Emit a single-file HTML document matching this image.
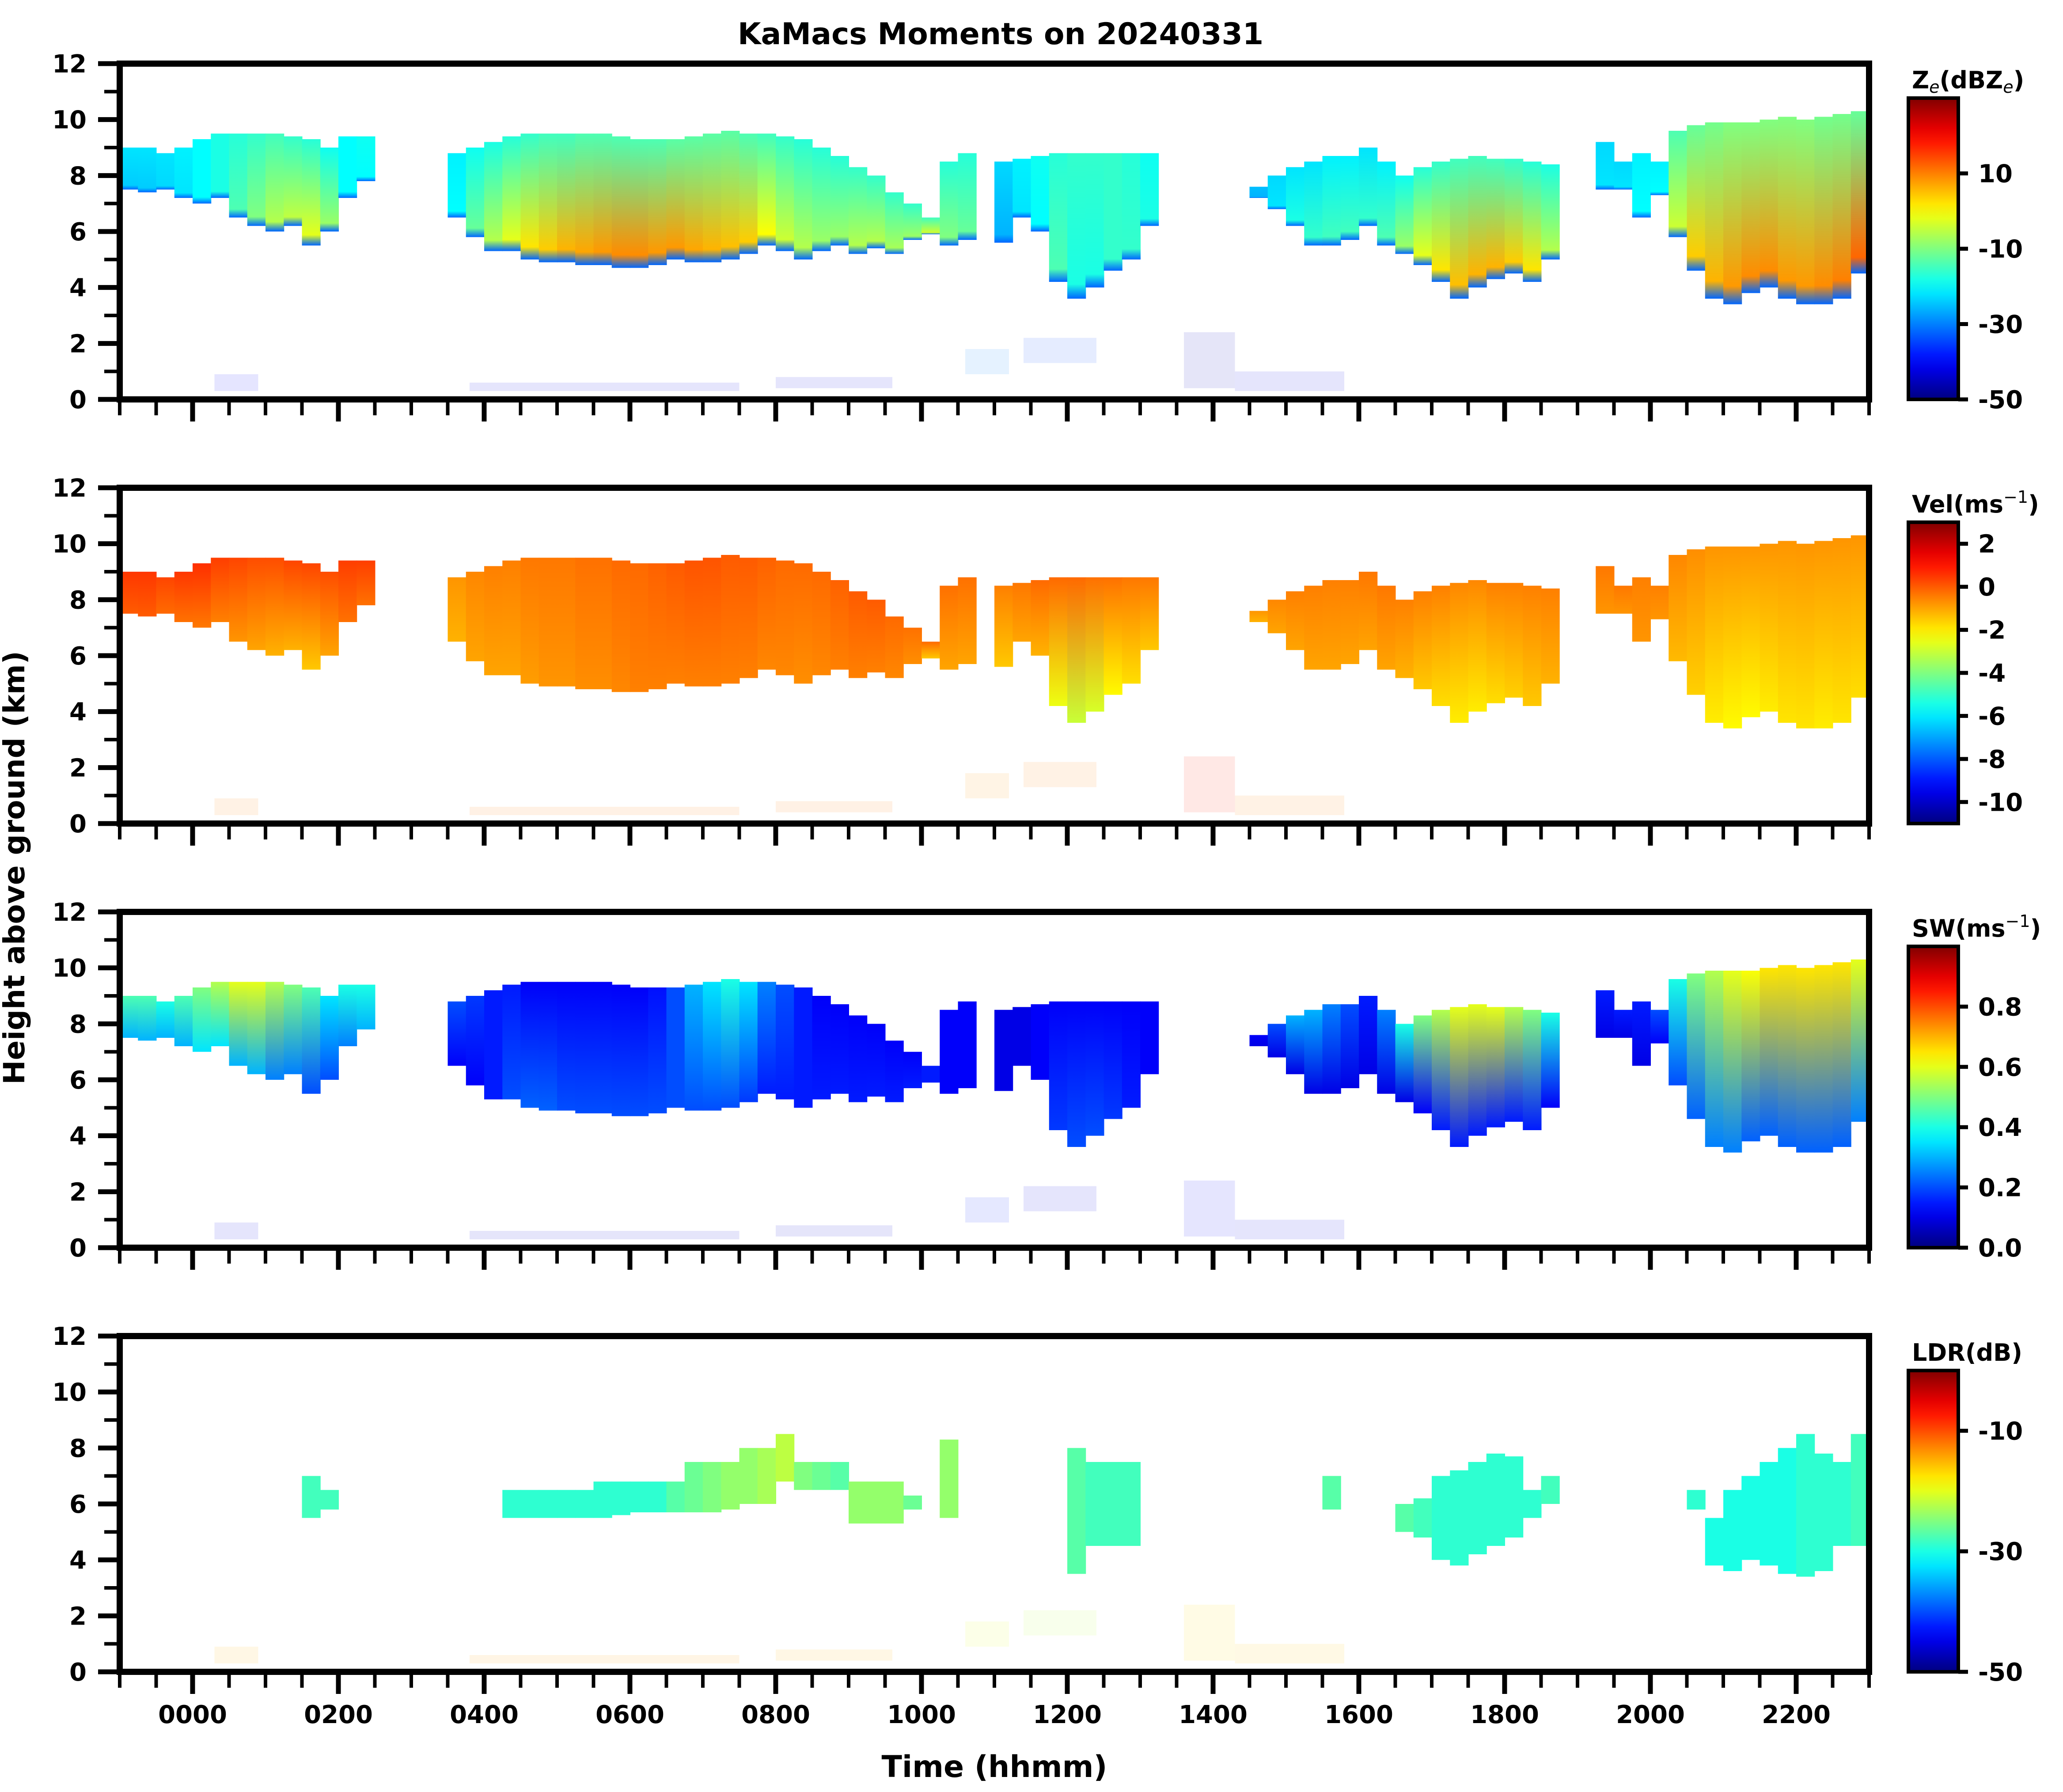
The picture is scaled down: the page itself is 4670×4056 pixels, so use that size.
<!DOCTYPE html>
<html><head><meta charset="utf-8">
<style>
html,body{margin:0;padding:0;background:#fff;}
svg{display:block;font-family:"DejaVu Sans","Liberation Sans",sans-serif;font-weight:bold;}
</style></head>
<body>
<svg id="fig" xmlns="http://www.w3.org/2000/svg" width="4670" height="4056" viewBox="0 0 4670 4056">
<rect width="4670" height="4056" fill="#fff"/>
<defs id="defs"></defs>
<text x="2265" y="100" font-size="68" text-anchor="middle">KaMacs Moments on 20240331</text>
<text x="0" y="0" font-size="66" text-anchor="middle" transform="translate(55,1964) rotate(-90)">Height above ground (km)</text>
<text x="2251" y="4022" font-size="68" text-anchor="middle">Time (hhmm)</text>
<g id="plots"></g>
</svg>
<script>
// ---- data (hours relative to 0000 UTC, 15-min columns) ----
const hours = [-1,-0.75,-0.5,-0.25,0,0.25,0.5,0.75,1,1.25,1.5,1.75,2,2.25,2.5,2.75,3,3.25,3.5,3.75,4,4.25,4.5,4.75,5,5.25,5.5,5.75,6,6.25,6.5,6.75,7,7.25,7.5,7.75,8,8.25,8.5,8.75,9,9.25,9.5,9.75,10,10.25,10.5,10.75,11,11.25,11.5,11.75,12,12.25,12.5,12.75,13,13.25,13.5,13.75,14,14.25,14.5,14.75,15,15.25,15.5,15.75,16,16.25,16.5,16.75,17,17.25,17.5,17.75,18,18.25,18.5,18.75,19,19.25,19.5,19.75,20,20.25,20.5,20.75,21,21.25,21.5,21.75,22,22.25,22.5,22.75];
const cloudTop = [9.0,9.0,8.8,9.0,9.3,9.5,9.5,9.5,9.5,9.4,9.3,9.0,9.4,9.4,0,0,0,0,8.8,9.0,9.2,9.4,9.5,9.5,9.5,9.5,9.5,9.4,9.3,9.3,9.3,9.4,9.5,9.6,9.5,9.5,9.4,9.3,9.0,8.7,8.3,8.0,7.4,7.0,6.5,8.5,8.8,0,8.5,8.6,8.7,8.8,8.8,8.8,8.8,8.8,8.8,0,0,0,0,0,7.6,8.0,8.3,8.5,8.7,8.7,9.0,8.5,8.0,8.3,8.5,8.6,8.7,8.6,8.6,8.5,8.4,0,0,9.2,8.5,8.8,8.5,9.6,9.8,9.9,9.9,9.9,10.0,10.1,10.0,10.1,10.2,10.3];
const cloudBase = [7.5,7.4,7.5,7.2,7.0,7.2,6.5,6.2,6.0,6.2,5.5,6.0,7.2,7.8,0,0,0,0,6.5,5.8,5.3,5.3,5.0,4.9,4.9,4.8,4.8,4.7,4.7,4.8,5.0,4.9,4.9,5.0,5.2,5.5,5.3,5.0,5.3,5.5,5.2,5.4,5.2,5.7,5.9,5.5,5.7,0,5.6,6.5,6.0,4.2,3.6,4.0,4.6,5.0,6.2,0,0,0,0,0,7.2,6.8,6.2,5.5,5.5,5.7,6.2,5.5,5.2,4.8,4.2,3.6,4.0,4.3,4.5,4.2,5.0,0,0,7.5,7.5,6.5,7.3,5.8,4.6,3.6,3.4,3.8,4.0,3.6,3.4,3.4,3.6,4.5];
const zeUpper = [-22,-22,-22,-21,-20,-18,-17,-16,-15,-16,-17,-19,-20,-19,0,0,0,0,-21,-19,-18,-17,-16,-15,-15,-14,-14,-14,-14,-14,-13,-13,-13,-13,-14,-15,-16,-17,-17,-17,-16,-16,-16,-16,-15,-17,-17,0,-23,-21,-19,-17,-16,-16,-16,-17,-19,0,0,0,0,0,-25,-23,-22,-22,-21,-21,-22,-21,-19,-17,-16,-15,-15,-15,-16,-17,-18,0,0,-23,-23,-21,-21,-14,-12,-11,-10,-10,-10,-10,-10,-11,-11,-12];
const zeLower = [-24,-24,-23,-22,-20,-18,-14,-10,-6,-5,-2,-8,-20,-20,0,0,0,0,-20,-12,-6,-2,2,4,6,7,8,9,9,8,8,7,6,5,4,0,-4,-6,-8,-8,-6,-6,-7,-8,-4,-10,-12,0,-26,-22,-20,-14,-18,-18,-16,-16,-18,0,0,0,0,0,-26,-22,-18,-16,-15,-15,-16,-14,-8,-2,2,5,6,6,4,2,-6,0,0,-22,-22,-20,-20,-4,4,6,8,9,9,8,8,9,10,12];
const velUpper = [0.5,0.5,0.3,0.5,0.6,0.4,0.3,0.2,0.2,0.3,0.3,0.2,0.4,0.4,0,0,0,0,-0.8,-0.6,-0.5,-0.5,-0.4,-0.4,-0.4,-0.3,-0.3,-0.2,-0.2,-0.1,0,0.1,0.1,0,0,-0.1,-0.2,-0.2,-0.2,-0.1,0,0,-0.2,-0.3,-0.2,-0.3,-0.3,0,-0.5,-0.4,-0.2,-0.2,-0.2,-0.3,-0.3,-0.4,-0.4,0,0,0,0,0,-0.8,-0.6,-0.5,-0.5,-0.5,-0.5,-0.4,-0.4,-0.5,-0.5,-0.5,-0.6,-0.6,-0.5,-0.5,-0.5,-0.5,0,0,-0.4,-0.4,-0.5,-0.5,-0.6,-0.7,-0.8,-0.8,-0.8,-0.8,-0.8,-0.8,-0.8,-0.8,-0.8];
const velLower = [0,0,-0.2,-0.3,-0.4,-0.5,-0.8,-1,-1.2,-1.2,-1.5,-1,-0.3,-0.3,0,0,0,0,-1.2,-1.0,-1.0,-1.0,-0.9,-0.8,-0.8,-0.7,-0.7,-0.6,-0.5,-0.5,-0.5,-0.5,-0.5,-0.5,-0.5,-0.6,-0.6,-0.7,-0.6,-0.5,-0.5,-0.5,-0.6,-0.7,-1.5,-1.0,-1.0,0,-1.5,-1.0,-1.2,-2.5,-3.0,-2.8,-2.2,-1.8,-1.5,0,0,0,0,0,-1.2,-1.0,-1.0,-1.0,-1.0,-1.0,-1.0,-1.0,-1.2,-1.5,-1.8,-2.0,-2.0,-1.8,-1.6,-1.5,-1.2,0,0,-0.8,-0.8,-0.8,-0.8,-1.3,-1.6,-2.0,-2.2,-2.2,-2.0,-1.9,-1.9,-2.0,-1.9,-1.8];
const swUpper = [0.45,0.45,0.4,0.45,0.5,0.55,0.6,0.6,0.55,0.5,0.45,0.35,0.4,0.4,0,0,0,0,0.2,0.18,0.15,0.15,0.12,0.12,0.12,0.12,0.12,0.12,0.12,0.14,0.2,0.3,0.35,0.4,0.35,0.25,0.2,0.15,0.12,0.12,0.12,0.12,0.12,0.12,0.15,0.12,0.12,0,0.1,0.1,0.12,0.12,0.12,0.12,0.12,0.12,0.12,0,0,0,0,0,0.12,0.2,0.3,0.3,0.25,0.2,0.15,0.25,0.4,0.5,0.55,0.6,0.6,0.6,0.55,0.5,0.4,0,0,0.15,0.15,0.15,0.2,0.4,0.5,0.55,0.6,0.62,0.65,0.65,0.65,0.65,0.65,0.6];
const swLower = [0.3,0.3,0.3,0.3,0.35,0.35,0.3,0.3,0.25,0.25,0.2,0.2,0.25,0.3,0,0,0,0,0.12,0.12,0.15,0.2,0.22,0.22,0.2,0.2,0.2,0.2,0.2,0.2,0.2,0.2,0.2,0.2,0.18,0.15,0.15,0.15,0.15,0.15,0.15,0.15,0.15,0.15,0.15,0.12,0.12,0,0.1,0.1,0.12,0.18,0.2,0.2,0.18,0.15,0.12,0,0,0,0,0,0.1,0.1,0.1,0.1,0.1,0.1,0.1,0.1,0.1,0.12,0.15,0.15,0.15,0.15,0.15,0.15,0.12,0,0,0.1,0.1,0.1,0.12,0.2,0.22,0.25,0.25,0.22,0.22,0.22,0.22,0.22,0.22,0.25];
const ldrTop = [0,0,0,0,0,0,0,0,0,0,7.0,6.5,0,0,0,0,0,0,0,0,0,6.5,6.5,6.5,6.5,6.5,6.8,6.8,6.8,6.8,6.8,7.5,7.5,7.5,8.0,8.0,8.5,7.5,7.5,7.5,6.8,6.8,6.8,6.3,0,8.3,0,0,0,0,0,0,8.0,7.5,7.5,7.5,0,0,0,0,0,0,0,0,0,0,7.0,0,0,0,6.0,6.2,7.0,7.2,7.5,7.8,7.7,6.5,7.0,0,0,0,0,0,0,0,6.5,5.5,6.5,7.0,7.5,8.0,8.5,7.8,7.5,8.5];
const ldrBase = [0,0,0,0,0,0,0,0,0,0,5.5,5.8,0,0,0,0,0,0,0,0,0,5.5,5.5,5.5,5.5,5.5,5.5,5.6,5.7,5.7,5.7,5.7,5.7,5.8,6.0,6.0,6.8,6.5,6.5,6.5,5.3,5.3,5.3,5.8,0,5.5,0,0,0,0,0,0,3.5,4.5,4.5,4.5,0,0,0,0,0,0,0,0,0,0,5.8,0,0,0,5.0,4.8,4.0,3.8,4.2,4.5,4.8,5.5,6.0,0,0,0,0,0,0,0,5.8,3.8,3.6,4.0,3.8,3.5,3.4,3.6,4.5,4.5];
const ldrVal = [0,0,0,0,0,0,0,0,0,0,-28,-28,0,0,0,0,0,0,0,0,0,-29,-29,-29,-29,-29,-29,-29,-29,-29,-27,-26,-25,-24,-24,-23,-22,-25,-26,-27,-24,-24,-24,-26,0,-24,0,0,0,0,0,0,-27,-28,-28,-28,0,0,0,0,0,0,0,0,0,0,-27,0,0,0,-27,-28,-29,-29,-29,-29,-29,-29,-28,0,0,0,0,0,0,0,-29,-30,-30,-30,-30,-30,-29,-29,-29,-28];
// low-level clutter patches: start hour, end hour, base km, top km
const clutterStart = [0.3,3.8,8.0,10.6,11.4,13.6,14.3];
const clutterEnd = [0.9,7.5,9.6,11.2,12.4,14.3,15.8];
const clutterBase = [0.3,0.3,0.4,0.9,1.3,0.4,0.3];
const clutterTop = [0.9,0.6,0.8,1.8,2.2,2.4,1.0];
const clutterZe = [-40,-42,-42,-30,-35,-45,-42];
const clutterVel = [-0.5,-0.4,-0.4,-0.8,-0.5,0.8,-0.5];
const clutterSw = [0.1,0.08,0.08,0.15,0.1,0.12,0.1];
const clutterLdr = [-15,-14,-15,-20,-22,-17,-16];
// colorbar settings
const cbMin = [-50,-11,0,-50];
const cbMax = [30,3,1,0];
const cbTicks = [[10,-10,-30,-50],[2,0,-2,-4,-6,-8,-10],[0.8,0.6,0.4,0.2,0.0],[-10,-30,-50]];
const cbTickLabels = [["10","-10","-30","-50"],["2","0","-2","-4","-6","-8","-10"],["0.8","0.6","0.4","0.2","0.0"],["-10","-30","-50"]];
const yTicks = [0,2,4,6,8,10,12];
const xTickHours = [0,2,4,6,8,10,12,14,16,18,20,22];
const xTickLabels = ["0000","0200","0400","0600","0800","1000","1200","1400","1600","1800","2000","2200"];

// ---- layout ----
const NS = "http://www.w3.org/2000/svg";
const X0 = 271, X1 = 4231, PH = 760;
const PT = [144,1104,2064,3024];
const CBX = 4320, CBW = 113;
function xs(h){ return X0 + (h+1)/24*(X1-X0); }
function ys(p,km){ return PT[p] + PH*(1-km/12); }
function jet(t){
  t=Math.max(0,Math.min(1,t));
  function f(a){return Math.max(0,Math.min(1,a));}
  const r=f(1.5-Math.abs(4*t-3)), g=f(1.5-Math.abs(4*t-2)), b=f(1.5-Math.abs(4*t-1));
  return "rgb("+Math.round(r*255)+","+Math.round(g*255)+","+Math.round(b*255)+")";
}
function col(p,v){ return jet((v-cbMin[p])/(cbMax[p]-cbMin[p])); }
function mk(tag,attrs,parent){ const e=document.createElementNS(NS,tag); for(const k in attrs) e.setAttribute(k,attrs[k]); parent.appendChild(e); return e; }
const plots=document.getElementById("plots");
const defs=document.getElementById("defs");
let gid=0;
function gradRect(g,p,x,w,top,base,c1,c2,edge,name){
  const id="gr"+(gid++);
  const lg=mk("linearGradient",{id:id,x1:"0",y1:"0",x2:"0",y2:"1"},defs);
  mk("stop",{offset:"0","stop-color":c1},lg);
  mk("stop",{offset:edge?"0.9":"1","stop-color":c2},lg);
  if(edge) mk("stop",{offset:"1","stop-color":edge},lg);
  const r=mk("rect",{x:x,y:ys(p,top),width:w,height:ys(p,base)-ys(p,top),fill:"url(#"+id+")"},g);
  
  
}
const uppers=[zeUpper,velUpper,swUpper], lowers=[zeLower,velLower,swLower];
const edges=[-32,null,null];
const titles=[["Z","e","(dBZ","e",")"],["Vel(ms","-1",")"],["SW(ms","-1",")"],["LDR(dB)"]];
const names=["reflectivity","velocity","spectrum-width","ldr"];
const cw=(X1-X0)/96;
for(let p=0;p<4;p++){
  const g=mk("g",{},plots);
  
  
  // clutter
  const cl=[clutterZe,clutterVel,clutterSw,clutterLdr][p];
  for(let k=0;k<clutterStart.length;k++){
    const r=mk("rect",{x:xs(clutterStart[k]),y:ys(p,clutterTop[k]),width:xs(clutterEnd[k])-xs(clutterStart[k]),height:ys(p,clutterBase[k])-ys(p,clutterTop[k]),fill:col(p,cl[k]),opacity:"0.1"},g);
    
    
  }
  for(let i=0;i<hours.length;i++){
    const x=xs(hours[i]);
    if(p<3){
      if(cloudTop[i]<=0) continue;
      gradRect(g,p,x,cw+1,cloudTop[i],cloudBase[i],col(p,uppers[p][i]),col(p,lowers[p][i]),edges[p]!==null?col(p,edges[p]):null,'cloud-column');
    } else {
      if(ldrTop[i]<=0) continue;
      const r=mk("rect",{x:x,y:ys(p,ldrTop[i]),width:cw+1,height:ys(p,ldrBase[i])-ys(p,ldrTop[i]),fill:col(p,ldrVal[i])},g);
      
      
    }
  }
  // axes frame
  const fr=mk("rect",{x:X0,y:PT[p],width:X1-X0,height:PH,fill:"none",stroke:"#000","stroke-width":"14"},g);
  
  
  // y ticks
  for(let km=0;km<=12;km++){
    const y=ys(p,km), major=km%2===0;
    const t=mk("line",{x1:X0-7,x2:X0-7-(major?42:28),y1:y,y2:y,stroke:"#000","stroke-width":major?11:8},g);
    
    
  }
  for(const v of yTicks){
    const t=mk("text",{x:196,y:ys(p,v)+20,"font-size":"56","text-anchor":"end"},g);
    t.textContent=String(v);
    
    
  }
  // x ticks
  for(let k=0;k<=48;k++){
    const h=-1+k*0.5, x=xs(h), major=(h>=0&&h%2===0);
    const t=mk("line",{x1:x,x2:x,y1:PT[p]+PH+7,y2:PT[p]+PH+7+(major?43:29),stroke:"#000","stroke-width":major?11:8},g);
    
    
  }
  if(p===3){
    for(let k=0;k<xTickHours.length;k++){
      const t=mk("text",{x:xs(xTickHours[k]),y:3900,"font-size":"56","text-anchor":"middle"},g);
      t.textContent=xTickLabels[k];
      
      
    }
  }
  // colorbar
  const cbTop=PT[p]+78, cbBot=PT[p]+PH;
  const id="cb"+p;
  const lg=mk("linearGradient",{id:id,x1:"0",y1:"1",x2:"0",y2:"0"},defs);
  for(let s=0;s<=20;s++){ mk("stop",{offset:s/20,"stop-color":jet(s/20)},lg); }
  const cb=mk("rect",{x:CBX,y:cbTop,width:CBW,height:cbBot-cbTop,fill:"url(#"+id+")",stroke:"#000","stroke-width":"8"},g);
  
  
  const sc=(v)=>cbBot-(v-cbMin[p])/(cbMax[p]-cbMin[p])*(cbBot-cbTop);
  for(let k=0;k<cbTicks[p].length;k++){
    const y=sc(cbTicks[p][k]);
    const l=mk("line",{x1:CBX+CBW,x2:CBX+CBW+22,y1:y,y2:y,stroke:"#000","stroke-width":"9"},g);
    
    
    const t=mk("text",{x:CBX+CBW+45,y:y+20,"font-size":"56"},g);
    t.textContent=cbTickLabels[p][k];
    
    
  }
  // colorbar title
  const tt=mk("text",{x:CBX+8,y:cbTop-22,"font-size":"54"},g);
  
  
  const parts=titles[p];
  if(p===0){
    [["Z",0],["e",1],["(dBZ",0],["e",1],[")",0]].forEach(([s,sub])=>{
      const ts=mk("tspan",sub?{"font-size":"38","font-weight":"normal","font-style":"italic",dy:"10"}:{dy:"-10"},tt);
      ts.textContent=s;
    });
    tt.firstChild.setAttribute("dy","0");
  } else if(p<3){
    const a=mk("tspan",{},tt); a.textContent=parts[0];
    const b=mk("tspan",{"font-size":"38","font-weight":"normal",dy:"-22"},tt); b.textContent="\u22121";
    const c=mk("tspan",{dy:"22"},tt); c.textContent=")";
  } else { tt.textContent=parts[0]; }
}
</script>
</body></html>
